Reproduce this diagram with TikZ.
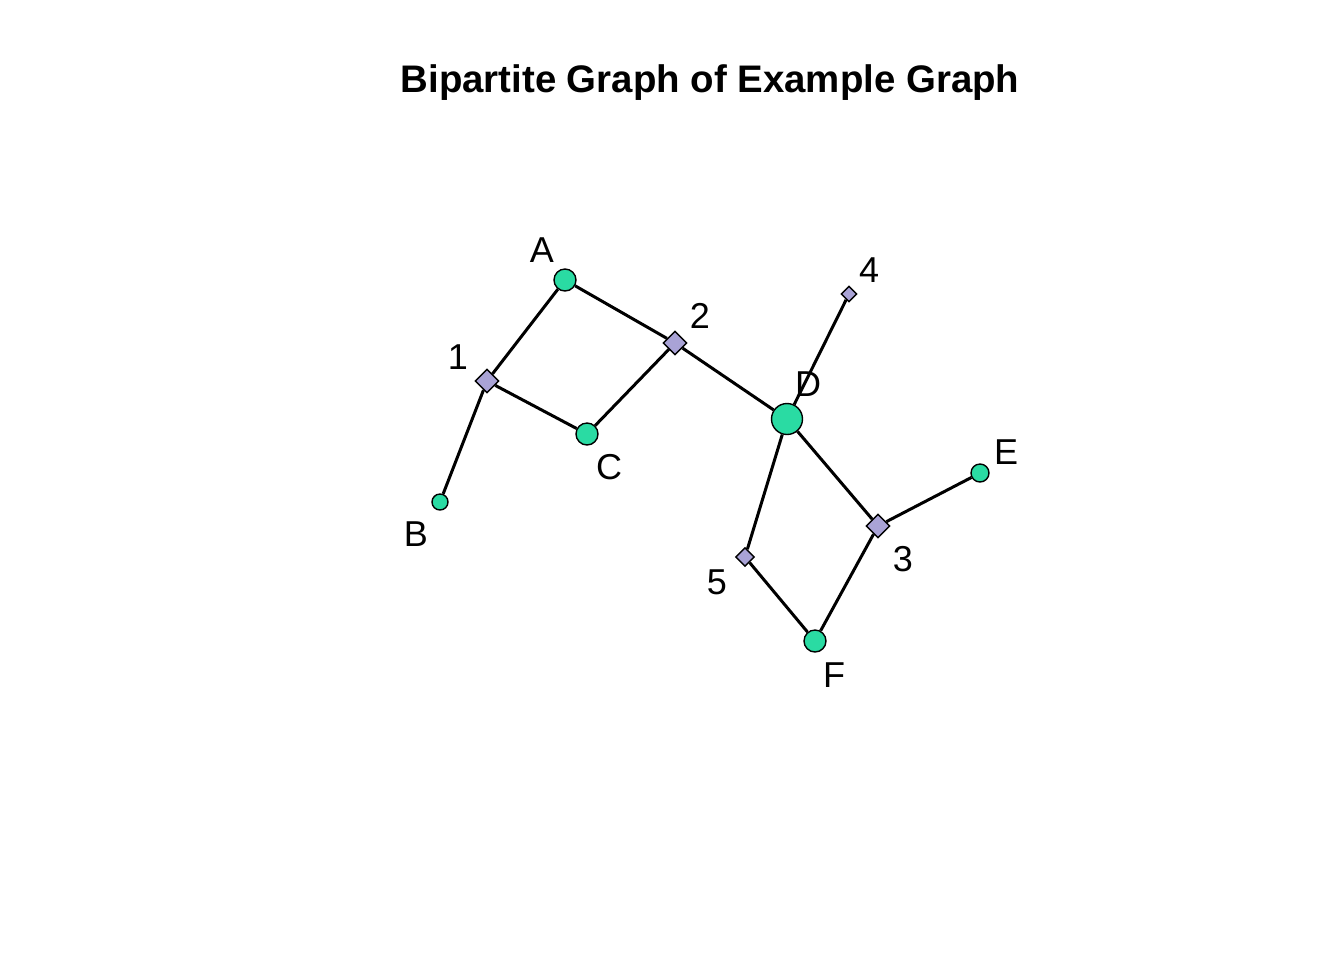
\documentclass[tikz,border=0pt]{standalone}
\usepackage{fontspec}
\setmainfont{Liberation Sans}
\usetikzlibrary{shapes.geometric}
\definecolor{vgreen}{RGB}{42,219,163}
\definecolor{vpurple}{RGB}{169,163,214}
\begin{document}
\begin{tikzpicture}[x=0.5pt,y=-0.5pt,
  edge/.style={line width=1.5pt,black},
  vtx/.style={circle,draw=black,line width=0.7pt,fill=vgreen,inner sep=0pt},
  grp/.style={diamond,draw=black,line width=0.7pt,fill=vpurple,inner sep=0pt},
  lab/.style={font=\fontsize{18}{21}\selectfont,inner sep=0pt}]
\useasboundingbox (0,0) rectangle (1344,960);
\node[font=\bfseries\fontsize{19.2}{23}\selectfont] (title) at (710,83) {Bipartite Graph of Example Graph};
% vertices
\node[vtx,minimum size=11pt] (A) at (565,280) {};
\node[vtx,minimum size=8pt] (B) at (440,502) {};
\node[vtx,minimum size=11pt] (C) at (587,434) {};
\node[vtx,minimum size=15.5pt] (D) at (787,419) {};
\node[vtx,minimum size=9pt] (E) at (980,473) {};
\node[vtx,minimum size=11pt] (F) at (815,641) {};
\node[grp,minimum size=12pt] (g1) at (487,381) {};
\node[grp,minimum size=12pt] (g2) at (675,343) {};
\node[grp,minimum size=12pt] (g3) at (878,526) {};
\node[grp,minimum size=8pt] (g4) at (849,294) {};
\node[grp,minimum size=9.5pt] (g5) at (745,557) {};
% edges
\draw[edge] (A) -- (g1);
\draw[edge] (A) -- (g2);
\draw[edge] (g1) -- (C);
\draw[edge] (g1) -- (B);
\draw[edge] (g2) -- (C);
\draw[edge] (g2) -- (D);
\draw[edge] (D) -- (g4);
\draw[edge] (D) -- (g5);
\draw[edge] (D) -- (g3);
\draw[edge] (g3) -- (E);
\draw[edge] (g3) -- (F);
\draw[edge] (g5) -- (F);
% labels
\node[lab] (lA) at (542,250) {A};
\node[lab] (lB) at (416,534) {B};
\node[lab] (lC) at (609,467) {C};
\node[lab] (lD) at (808,384) {D};
\node[lab] (lE) at (1006,452) {E};
\node[lab] (lF) at (834,675) {F};
\node[lab] (l1) at (458,357) {1};
\node[lab] (l2) at (700,316) {2};
\node[lab] (l3) at (903,559) {3};
\node[lab] (l4) at (869,270) {4};
\node[lab] (l5) at (717,582) {5};
\end{tikzpicture}
\end{document}
